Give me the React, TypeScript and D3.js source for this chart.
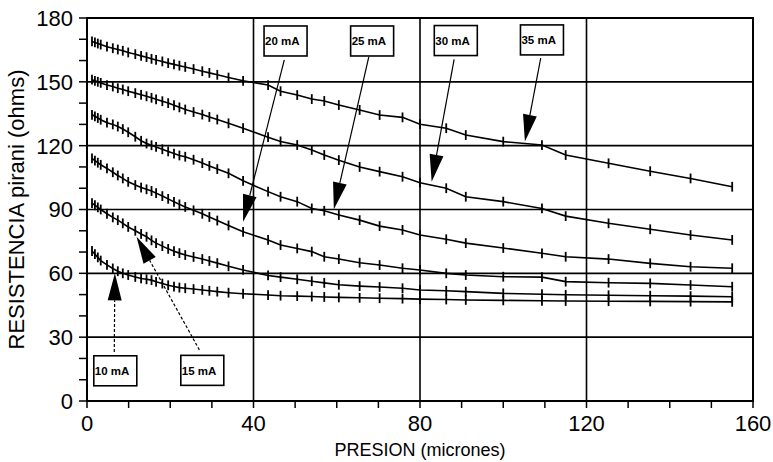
import React from "react";
import * as d3 from "d3";

const pressure = [1.2, 1.9, 2.6, 3.3, 4.8, 6.2, 7.4, 8.6, 9.9, 11.6, 13, 14.3, 15.5, 16.6, 18.1, 19.5, 20.9, 22.2, 23.6, 25.6, 27.7, 29.4, 31.3, 34, 37.5, 43.5, 46.5, 50.5, 54, 57, 60.5, 65.5, 70.3, 75.8, 80, 86.3, 91, 100, 109.3, 115, 125.3, 135.3, 145, 155];

const r35 = [169, 168.5, 168, 167.5, 166.5, 165.8, 165.2, 164.6, 163.8, 163, 162.2, 161.6, 160.8, 160.3, 159.6, 158.8, 158.2, 157.6, 157, 156, 155, 154.2, 153.3, 152, 150.5, 148.5, 145.6, 143.8, 141.9, 141, 139.1, 136.8, 134.4, 133.3, 130.1, 128.2, 125, 121.9, 120.3, 115.6, 111.7, 108, 104.6, 100.7];
const r30 = [151, 150.5, 150, 149.5, 148.5, 147.8, 147, 146.4, 145.6, 144.7, 143.9, 143.2, 142.5, 141.8, 140.9, 140, 139, 138, 137, 135.8, 134.6, 133.5, 132.3, 130.5, 128.2, 124, 122, 120.3, 118, 115.6, 113.2, 110, 107.8, 105.4, 102.6, 100, 96, 93.7, 90.5, 86.9, 83.5, 80.7, 78, 75.7];
const r25 = [134.5, 133.8, 133, 132.2, 130.8, 130, 129, 127.8, 126.3, 124.2, 122.3, 121, 120.2, 119.4, 118.3, 117.3, 116.3, 115.4, 114.8, 113.4, 111.8, 110.5, 109, 107, 103.5, 98.4, 96, 93.7, 90.5, 89.4, 87.4, 85, 82.2, 80.4, 78, 76, 74.2, 71.9, 69.4, 67.8, 66.7, 64.7, 63.1, 62.4];
const r20 = [114, 113, 112, 111, 109.3, 107.5, 106, 104.6, 103, 101.5, 100.3, 99.5, 98.7, 97.7, 96.3, 95, 93.6, 92.4, 91.2, 89.6, 88, 86.5, 84.8, 82.5, 79.5, 75.7, 73.3, 71.7, 70.2, 67.8, 66.7, 65, 63.9, 62.4, 61.6, 60, 59.2, 58.4, 58.2, 56.1, 55.6, 55.3, 54.5, 53.7];
const r15 = [93, 92, 91, 90, 88, 86.3, 85, 83.5, 81.8, 80, 78.5, 77.2, 75.5, 74.2, 72.8, 71.5, 70.4, 69.5, 68.6, 67.7, 66.7, 65.8, 64.8, 63.3, 61.6, 59, 58.2, 57.2, 56.3, 55.5, 54.6, 54, 53.6, 53, 52.2, 51.8, 51.4, 50.6, 50.2, 49.9, 49.7, 49.5, 49.3, 49];
const r10 = [70.5, 69, 67.5, 66, 64, 62.3, 61, 60, 59.2, 58.3, 57.6, 57.2, 56.8, 56, 55.2, 54.4, 53.8, 53.3, 53, 52.6, 52.2, 51.8, 51.4, 50.9, 50.4, 49.8, 49.5, 49.3, 49.1, 48.9, 48.7, 48.5, 48.3, 48.1, 47.9, 47.7, 47.5, 47.3, 47.1, 47, 46.9, 46.8, 46.7, 46.6];

const seriesList = [r35, r30, r25, r20, r15, r10];
const errorHalf = 2.3;

const xTicks = [0, 40, 80, 120, 160];
const yTicks = [0, 30, 60, 90, 120, 150, 180];
const xMinor = d3.range(0, 161, 10);
const yMinor = d3.range(0, 181, 10);

// annotation: label, box center (data), tail (data), tip (data), dashed
const annLabels = ["10 mA", "15 mA", "20 mA", "25 mA", "30 mA", "35 mA"];
const annBox = [[6.8, 14.2], [27.7, 14.4], [47.7, 169.2], [68.5, 169.2], [88.6, 169.4], [109.3, 169.7]];
const annTail = [[6.55, 23.0], [27.0, 24.0], [47.4, 160.3], [67.7, 161.7], [88.2, 160.6], [109.0, 161.1]];
const annTip = [[6.7, 60], [11.9, 77.2], [37.5, 84.3], [59.3, 90.1], [82.8, 103.1], [105.2, 121.9]];
const annDashed = [true, true, false, false, false, false];

const W = 773, H = 462;
const L = 87, R = 753, T = 18, B = 401;

export default function App() {
  const x = d3.scaleLinear().domain([0, 160]).range([L, R]);
  const y = d3.scaleLinear().domain([0, 180]).range([B, T]);
  const line = d3.line<number>().x((_, i) => x(pressure[i])).y((d) => y(d));
  const font = "'Liberation Sans', Arial, sans-serif";

  return (
    <svg width={W} height={H} style={{ position: "absolute", left: 0, top: 0, background: "#fff" }} fontFamily={font}>
      {/* grid */}
      {yTicks.map((t) => (
        <line key={"gy" + t} x1={L} x2={R} y1={y(t)} y2={y(t)} stroke="#000" strokeWidth={1.6} />
      ))}
      {xTicks.map((t) => (
        <line key={"gx" + t} x1={x(t)} x2={x(t)} y1={T} y2={B} stroke="#000" strokeWidth={1.6} />
      ))}
      {/* ticks */}
      {yMinor.map((t) => (
        <line key={"ty" + t} x1={L - 8} x2={L} y1={y(t)} y2={y(t)} stroke="#000" strokeWidth={1.5} />
      ))}
      {xMinor.map((t) => (
        <line key={"tx" + t} x1={x(t)} x2={x(t)} y1={B} y2={B + 7} stroke="#000" strokeWidth={1.5} />
      ))}
      {yTicks.map((t) => (
        <text key={"ly" + t} x={73} y={y(t)} dy="0.36em" textAnchor="end" fontSize={22} fill="#000">{t}</text>
      ))}
      {xTicks.map((t) => (
        <text key={"lx" + t} x={x(t)} y={431} textAnchor="middle" fontSize={22} fill="#000">{t}</text>
      ))}
      <text x={x(80)} y={456} textAnchor="middle" fontSize={18} fill="#000">PRESION (micrones)</text>
      <text transform={`translate(24,${(T + B) / 2}) rotate(-90)`} textAnchor="middle" fontSize={22} fill="#000">RESISTENCIA pirani (ohms)</text>

      {/* series */}
      {seriesList.map((s, si) => (
        <g key={"s" + si}>
          <path d={line(s) || ""} fill="none" stroke="#000" strokeWidth={1.6} />
          {s.map((v, i) => (
            <line key={i} x1={x(pressure[i])} x2={x(pressure[i])} y1={y(v - errorHalf)} y2={y(v + errorHalf)} stroke="#000" strokeWidth={1.8} />
          ))}
        </g>
      ))}

      {/* annotations */}
      {annLabels.map((lab, i) => {
        const bx = x(annBox[i][0]), by = y(annBox[i][1]);
        const tx = x(annTail[i][0]), ty = y(annTail[i][1]);
        const px = x(annTip[i][0]), py = y(annTip[i][1]);
        const dx = px - tx, dy = py - ty;
        const len = Math.hypot(dx, dy);
        const ux = dx / len, uy = dy / len;
        const hl = 27, hw = 7;
        const baseX = px - ux * hl, baseY = py - uy * hl;
        const nx = -uy, ny = ux;
        const tri = `${px},${py} ${baseX + nx * hw},${baseY + ny * hw} ${baseX - nx * hw},${baseY - ny * hw}`;
        return (
          <g key={"a" + i}>
            <rect x={bx - 21.5} y={by - 15} width={43} height={30} fill="#fff" stroke="#000" strokeWidth={1.6} />
            <text x={bx - 20.5} y={by} dy="0.36em" fontSize={11.5} fontWeight="bold" fill="#000">{lab}</text>
            <line x1={tx} y1={ty} x2={baseX} y2={baseY} stroke="#000" strokeWidth={1.2} strokeDasharray={annDashed[i] ? "3,2" : undefined} />
            <polygon points={tri} fill="#000" />
          </g>
        );
      })}

      {/* frame */}
      <rect x={L} y={T} width={R - L} height={B - T} fill="none" stroke="#000" strokeWidth={2} />
    </svg>
  );
}
